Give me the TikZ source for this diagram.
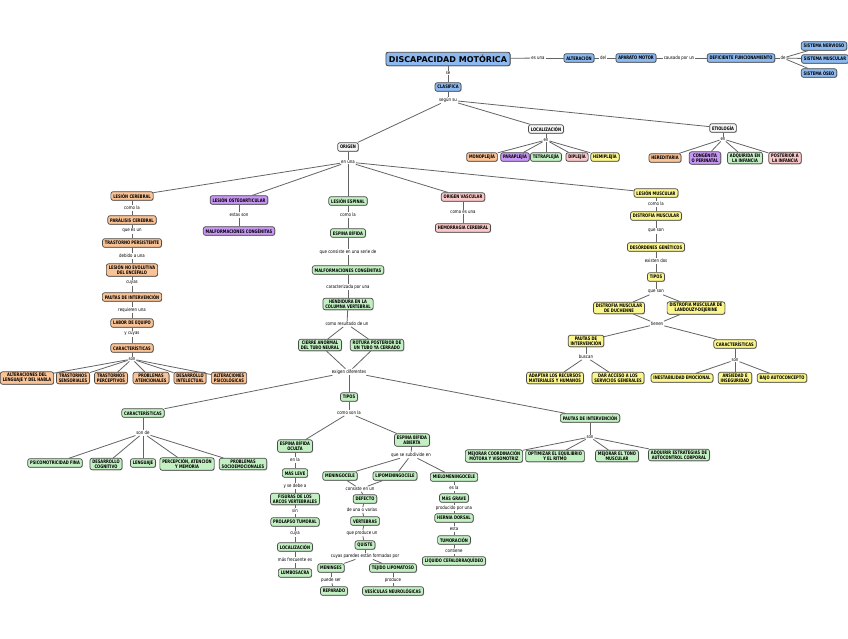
\documentclass[tikz,border=0pt]{standalone}
\usepackage{fontspec}
\newfontfamily\mapfnt[FakeStretch=0.82]{DejaVu Sans}
\newfontfamily\mapbfnt[FakeStretch=0.76]{DejaVu Sans Bold}
\newfontfamily\ttlfnt{DejaVu Sans}
\usetikzlibrary{shadows}
\definecolor{cblue}{RGB}{140,185,240}
\definecolor{corange}{RGB}{250,195,150}
\definecolor{cpurple}{RGB}{200,150,245}
\definecolor{cgreen}{RGB}{195,240,195}
\definecolor{cpink}{RGB}{250,200,200}
\definecolor{cyellow}{RGB}{250,245,140}
\definecolor{cgrey}{RGB}{246,246,246}
\definecolor{bord}{RGB}{75,75,75}
\definecolor{lgray}{RGB}{100,100,100}
\tikzset{
  nd/.style={draw=bord, line width=0.7pt, rounded corners=2.2pt, inner xsep=2.4pt, inner ysep=1.3pt,
    minimum height=8.6pt, align=center, font=\mapbfnt\fontsize{4.8}{5.3}\selectfont,
    drop shadow={shadow xshift=0.6pt, shadow yshift=-0.6pt, fill=black, opacity=0.3}},
  bl/.style={nd, fill=cblue},
  or/.style={nd, fill=corange},
  pu/.style={nd, fill=cpurple},
  gr/.style={nd, fill=cgreen},
  pk/.style={nd, fill=cpink},
  ye/.style={nd, fill=cyellow},
  gy/.style={nd, fill=cgrey},
  lb/.style={inner sep=0.8pt, font=\mapfnt\fontsize{4.8}{5.3}\selectfont},
  con/.style={draw=lgray, line width=0.8pt}
}
\begin{document}
\begin{tikzpicture}[x=1pt,y=-1pt]
\fill[white] (0,0) rectangle (848,638);
\useasboundingbox (0,0) rectangle (848,638);

% top row
\node[bl, font=\ttlfnt\bfseries\fontsize{8}{9}\selectfont, minimum height=13.5pt, inner xsep=3pt, line width=0.9pt] (dm) at (448,59) {DISCAPACIDAD MOTÓRICA};
\node[lb] (l1) at (538,58) {es una};
\node[bl] (alt) at (579,58) {ALTERACIÓN};
\node[lb] (l2) at (603,58) {del};
\node[bl] (apm) at (636,58) {APARATO MOTOR};
\node[lb] (l3) at (679,58) {causado por un};
\node[bl] (def) at (741,58) {DEFICIENTE FUNCIONAMIENTO};
\node[lb] (l4) at (783,58) {de};
\node[bl] (sn) at (824,46) {SISTEMA NERVIOSO};
\node[bl] (sm) at (825,59) {SISTEMA MUSCULAR};
\node[bl] (so) at (819,73) {SISTEMA ÓSEO};

% classification
\node[lb] (lse) at (448,73) {se};
\node[bl] (cla) at (448,87) {CLASIFICA};
\node[lb] (lsegun) at (448,100) {según su};
\node[gy] (ori) at (348,147) {ORIGEN};
\node[gy] (loc) at (546,129) {LOCALIZACIÓN};
\node[gy] (eti) at (723,128) {ETIOLOGÍA};
\node[lb] (len1) at (546,140) {en};
\node[or] (mono) at (482,157) {MONOPLEJÍA};
\node[pu] (para) at (515,157) {PARAPLEJÍA};
\node[gr] (tetra) at (546,157) {TETRAPLEJÍA};
\node[pk] (dipl) at (577,157) {DIPLEJÍA};
\node[ye] (hemi) at (605,157) {HEMIPLEJÍA};
\node[lb] (len2) at (723,139) {en};
\node[or] (her) at (665,158) {HEREDITARIA};
\node[pu] (cong) at (705,158) {CONGÉNITA\\O PERINATAL};
\node[gr] (adq) at (745,158) {ADQUIRIDA EN\\LA INFANCIA};
\node[pk] (post) at (785,158) {POSTERIOR A\\LA INFANCIA};

% origen
\node[lb] (lenuna) at (348,162) {en una};
\node[or] (lc) at (132,196) {LESIÓN CEREBRAL};
\node[pu] (lo) at (239,200) {LESIÓN OSTEOARTICULAR};
\node[gr] (le) at (348,201) {LESIÓN ESPINAL};
\node[pk] (ov) at (463,197) {ORIGEN VASCULAR};
\node[ye] (lm) at (656,193) {LESIÓN MUSCULAR};

% orange chain
\node[lb] (c1) at (132,208) {como la};
\node[or] (pc) at (132,220) {PARÁLISIS CEREBRAL};
\node[lb] (c2) at (132,231) {que es un};
\node[or] (tp) at (132,243) {TRASTORNO PERSISTENTE};
\node[lb] (c3) at (132,256) {debido a una};
\node[or] (lne) at (132,270) {LESIÓN NO EVOLUTIVA\\DEL ENCÉFALO};
\node[lb] (c4) at (132,283) {cuyas};
\node[or] (pio) at (132,297) {PAUTAS DE INTERVENCIÓN};
\node[lb] (c5) at (132,310) {requieren una};
\node[or] (lab) at (132,323) {LABOR DE EQUIPO};
\node[lb] (c6) at (132,334) {y cuyas};
\node[or] (cao) at (132,348) {CARACTERÍSTICAS};
\node[lb] (c7) at (132,359) {son};
\node[or] (o1) at (27,378) {ALTERACIONES DEL\\LENGUAJE Y DEL HABLA};
\node[or] (o2) at (73,378) {TRASTORNOS\\SENSORIALES};
\node[or] (o3) at (111,378) {TRASTORNOS\\PERCEPTIVOS};
\node[or] (o4) at (151,378) {PROBLEMAS\\ATENCIONALES};
\node[or] (o5) at (190,378) {DESARROLLO\\INTELECTUAL};
\node[or] (o6) at (229,378) {ALTERACIONES\\PSICOLÓGICAS};

% purple and pink
\node[lb] (lp) at (239,215) {estas son};
\node[pu] (mcp) at (239,231) {MALFORMACIONES CONGÉNITAS};
\node[lb] (lv) at (463,212) {como es una};
\node[pk] (hc) at (463,228) {HEMORRAGIA CEREBRAL};

% yellow chain
\node[lb] (y1) at (656,204) {como la};
\node[ye] (dmu) at (656,216) {DISTROFIA MUSCULAR};
\node[lb] (y2) at (656,231) {que son};
\node[ye] (dg) at (656,247) {DESÓRDENES GENÉTICOS};
\node[lb] (y3) at (656,261) {existen dos};
\node[ye] (ty) at (656,277) {TIPOS};
\node[lb] (y4) at (656,292) {que son};
\node[ye] (duch) at (619,308) {DISTROFIA MUSCULAR\\DE DUCHENNE};
\node[ye] (land) at (696,308) {DISTROFIA MUSCULAR DE\\LANDOUZY-DEJERINE};
\node[lb] (y5) at (657,324) {tienen};
\node[ye] (piy) at (586,341) {PAUTAS DE\\INTERVENCIÓN};
\node[ye] (cay) at (735,344) {CARACTERÍSTICAS};
\node[lb] (y6) at (586,357) {buscan};
\node[ye] (ad) at (555,378) {ADAPTAR LOS RECURSOS\\MATERIALES Y HUMANOS};
\node[ye] (da) at (618,378) {DAR ACCESO A LOS\\SERVICIOS GENERALES};
\node[lb] (y7) at (735,360) {son};
\node[ye] (ie) at (682,378) {INESTABILIDAD EMOCIONAL};
\node[ye] (an) at (735,378) {ANSIEDAD E\\INSEGURIDAD};
\node[ye] (ba) at (782,378) {BAJO AUTOCONCEPTO};

% green chain
\node[lb] (g1) at (348,215) {como la};
\node[gr] (eb) at (348,233) {ESPINA BÍFIDA};
\node[lb] (g2) at (348,252) {que consiste en una serie de};
\node[gr] (mc) at (348,270) {MALFORMACIONES CONGÉNITAS};
\node[lb] (g3) at (348,287) {caracterizada por una};
\node[gr] (hen) at (348,304) {HENDIDURA EN LA\\COLUMNA VERTEBRAL};
\node[lb] (g4) at (347,324) {como resultado de un};
\node[gr] (cie) at (320,345) {CIERRE ANORMAL\\DEL TUBO NEURAL};
\node[gr] (rot) at (377,345) {ROTURA POSTERIOR DE\\UN TUBO YA CERRADO};
\node[lb] (g5) at (349,372) {exigen diferentes};
\node[gr] (tip) at (349,397) {TIPOS};
\node[gr] (cag) at (143,413) {CARACTERÍSTICAS};
\node[gr] (pig) at (590,418) {PAUTAS DE INTERVENCIÓN};

\node[lb] (g6) at (143,433) {son de};
\node[gr] (k1) at (55,463) {PSICOMOTRICIDAD FINA};
\node[gr] (k2) at (106,464) {DESARROLLO\\COGNITIVO};
\node[gr] (k3) at (143,463) {LENGUAJE};
\node[gr] (k4) at (187,464) {PERCEPCIÓN, ATENCIÓN\\Y MEMORIA};
\node[gr] (k5) at (243,464) {PROBLEMAS\\SOCIOEMOCIONALES};

\node[lb] (g7) at (590,437) {son};
\node[gr] (p1) at (494,456) {MEJORAR COORDINACIÓN\\MOTORA Y VISOMOTRIZ};
\node[gr] (p2) at (555,456) {OPTIMIZAR EL EQUILIBRIO\\Y EL RITMO};
\node[gr] (p3) at (617,456) {MEJORAR EL TONO\\MUSCULAR};
\node[gr] (p4) at (679,455) {ADQUIRIR ESTRATEGIAS DE\\AUTOCONTROL CORPORAL};

\node[lb] (g8) at (349,413) {como son la};
\node[gr] (oc) at (295,446) {ESPINA BÍFIDA\\OCULTA};
\node[gr] (ab) at (412,440) {ESPINA BÍFIDA\\ABIERTA};

% oculta chain
\node[lb] (q1) at (295,460) {en la};
\node[gr] (ml) at (295,473) {MÁS LEVE};
\node[lb] (q2) at (295,486) {y se debe a};
\node[gr] (fis) at (295,499) {FISURAS DE LOS\\ARCOS VERTEBRALES};
\node[lb] (q3) at (295,511) {sin};
\node[gr] (pro) at (295,522) {PROLAPSO TUMORAL};
\node[lb] (q4) at (295,534) {cuya};
\node[gr] (lz) at (295,547) {LOCALIZACIÓN};
\node[lb] (q5) at (295,560) {más frecuente es};
\node[gr] (lum) at (295,573) {LUMBOSACRA};

% abierta
\node[lb] (a1) at (411,455) {que se subdivide en};
\node[gr] (men) at (340,476) {MENINGOCELE};
\node[gr] (lip) at (395,476) {LIPOMENINGOCELE};
\node[gr] (mie) at (454,477) {MIELOMENINGOCELE};
\node[lb] (a2) at (360,489) {consiste en un};
\node[gr] (dfc) at (365,499) {DEFECTO};
\node[lb] (a3) at (362,510) {de una o varias};
\node[gr] (ver) at (365,521) {VÉRTEBRAS};
\node[lb] (a4) at (362,533) {que produce un};
\node[gr] (qui) at (365,545) {QUISTE};
\node[lb] (a5) at (365,556) {cuyas paredes están formadas por};
\node[gr] (mng) at (331,568) {MENINGES};
\node[gr] (tej) at (393,568) {TEJIDO LIPOMATOSO};
\node[lb] (a6) at (331,580) {puede ser};
\node[gr] (rep) at (334,591) {REPARADO};
\node[lb] (a7) at (393,580) {produce};
\node[gr] (ves) at (393,591) {VESÍCULAS NEUROLÓGICAS};

% mielo chain
\node[lb] (m1) at (454,488) {es la};
\node[gr] (mg) at (454,498) {MÁS GRAVE};
\node[lb] (m2) at (454,508) {producido por una};
\node[gr] (hd) at (454,518) {HERNIA DORSAL};
\node[lb] (m3) at (454,529) {esta};
\node[gr] (tum) at (454,540) {TUMORACIÓN};
\node[lb] (m4) at (454,551) {contiene};
\node[gr] (lcr) at (454,561) {LÍQUIDO CEFALORRAQUÍDEO};

% connectors
\foreach \a/\b in {dm/l1,l1/alt,alt/l2,l2/apm,apm/l3,l3/def,def/l4,l4/sn,l4/sm,l4/so,
  dm/lse,lse/cla,cla/lsegun,lsegun/ori,lsegun/loc,lsegun/eti,
  loc/len1,len1/mono,len1/para,len1/tetra,len1/dipl,len1/hemi,
  eti/len2,len2/her,len2/cong,len2/adq,len2/post,
  ori/lenuna,lenuna/lc,lenuna/lo,lenuna/le,lenuna/ov,lenuna/lm,
  lc/c1,c1/pc,pc/c2,c2/tp,tp/c3,c3/lne,lne/c4,c4/pio,pio/c5,c5/lab,lab/c6,c6/cao,cao/c7,
  c7/o1,c7/o2,c7/o3,c7/o4,c7/o5,c7/o6,
  lo/lp,lp/mcp,ov/lv,lv/hc,
  lm/y1,y1/dmu,dmu/y2,y2/dg,dg/y3,y3/ty,ty/y4,y4/duch,y4/land,duch/y5,land/y5,
  y5/piy,y5/cay,piy/y6,y6/ad,y6/da,cay/y7,y7/ie,y7/an,y7/ba,
  le/g1,g1/eb,eb/g2,g2/mc,mc/g3,g3/hen,hen/g4,g4/cie,g4/rot,cie/g5,rot/g5,
  g5/tip,g5/cag,g5/pig,cag/g6,g6/k1,g6/k2,g6/k3,g6/k4,g6/k5,
  pig/g7,g7/p1,g7/p2,g7/p3,g7/p4,
  tip/g8,g8/oc,g8/ab,
  oc/q1,q1/ml,ml/q2,q2/fis,fis/q3,q3/pro,pro/q4,q4/lz,lz/q5,q5/lum,
  ab/a1,a1/men,a1/lip,a1/mie,men/a2,lip/a2,a2/dfc,dfc/a3,a3/ver,ver/a4,a4/qui,qui/a5,
  a5/mng,a5/tej,mng/a6,a6/rep,tej/a7,a7/ves,
  mie/m1,m1/mg,mg/m2,m2/hd,hd/m3,m3/tum,tum/m4,m4/lcr}
  \draw[con] (\a) -- (\b);
\end{tikzpicture}
\end{document}
